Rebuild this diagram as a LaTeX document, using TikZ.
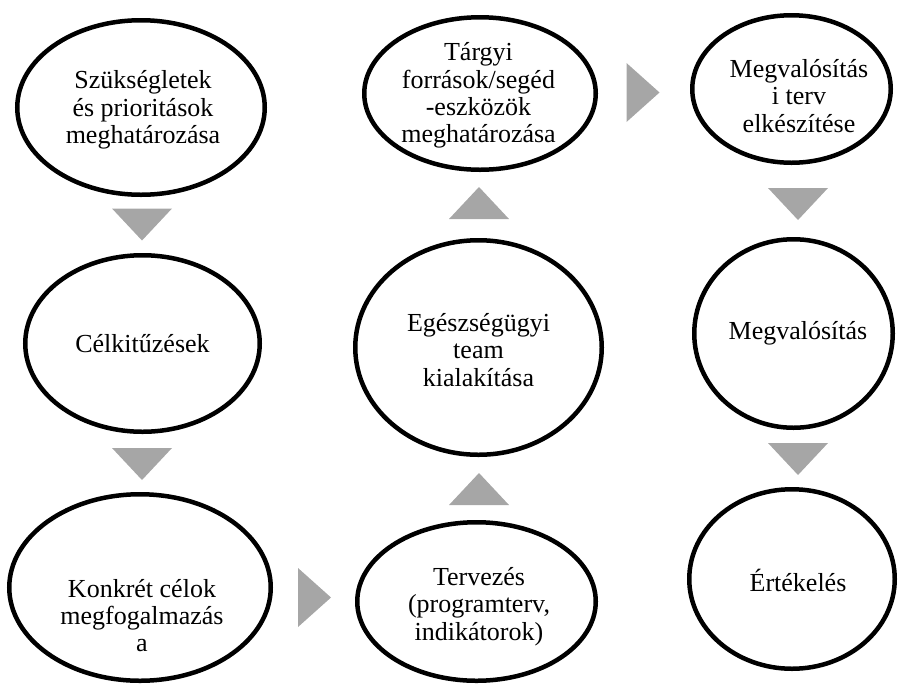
\documentclass[tikz,border=0pt]{standalone}
\usepackage{fontspec}
\setmainfont{Liberation Serif}
\usetikzlibrary{calc,shapes.geometric}
\definecolor{chevgray}{RGB}{166,166,166}
\begin{document}
\begin{tikzpicture}[x=1pt,y=-1pt,
  stage/.style={ellipse, draw=black, line width=4.5pt, fill=white, inner sep=0pt},
  lbl/.style={align=center, inner sep=0pt, font=\fontsize{26}{27.3}\selectfont},
  chev/.style={fill=chevgray, draw=none},
  tridown/.pic={\fill[chev] (-30,-16) -- (30,-16) -- (0,16) -- cycle;},
  triup/.pic={\fill[chev] (-30,16) -- (30,16) -- (0,-16) -- cycle;},
  triright/.pic={\fill[chev] (-16.5,-29.5) -- (-16.5,29.5) -- (16.5,0) -- cycle;}]
\useasboundingbox (0,0) rectangle (899,686);

% left column
\node[stage, minimum width=247.5pt, minimum height=174.5pt] (e1) at (141,107.5) {};
\node[stage, minimum width=234.5pt, minimum height=176.5pt] (e2) at (142.5,343.5) {};
\node[stage, minimum width=261.5pt, minimum height=186.5pt] (e3) at (140,587.5) {};
% middle column
\node[stage, minimum width=238.5pt, minimum height=158.5pt] (e4) at (476.5,601.5) {};
\node[stage, minimum width=246.5pt, minimum height=214.5pt] (e5) at (478.5,347.5) {};
\node[stage, minimum width=231.5pt, minimum height=152.5pt] (e6) at (480,93.5) {};
% right column
\node[stage, minimum width=198.5pt, minimum height=147.5pt] (e7) at (791.5,89) {};
\node[stage, minimum width=198.5pt, minimum height=188.5pt] (e8) at (793.5,333.5) {};
\node[stage, minimum width=205.5pt, minimum height=179.5pt] (e9) at (792,579) {};

% labels
\node[lbl] (t1) at ($(e1)+(2,2.5)$) {Szükségletek\\és prioritások\\meghatározása};
\node[lbl] (t2) at ($(e2)+(0,0)$) {Célkitűzések};
\node[lbl] (t3) at ($(e3)+(2,28)$) {Konkrét célok\\megfogalmazás\\a};
\node[lbl] (t4) at ($(e4)+(2.5,5)$) {Tervezés\\(programterv,\\indikátorok)};
\node[lbl] (t5) at ($(e5)+(0,2.5)$) {Egészségügyi\\team\\kialakítása};
\node[lbl] (t6) at ($(e6)+(-1.5,2)$) {Tárgyi\\források/segéd\\-eszközök\\meghatározása};
\node[lbl] (t7) at ($(e7)+(7.5,7)$) {Megvalósítás\\i terv\\elkészítése};
\node[lbl] (t8) at ($(e8)+(4.5,0)$) {Megvalósítás};
\node[lbl] (t9) at ($(e9)+(6,1)$) {Értékelés};

% chevrons between the stages
\pic at (142,224.5) {tridown};
\pic at (142,464) {tridown};
\pic at (314.5,597.5) {triright};
\pic at (479,489) {triup};
\pic at (479,203) {triup};
\pic at (643,92.5) {triright};
\pic at (798,204) {tridown};
\pic at (798,459) {tridown};
\end{tikzpicture}
\end{document}
